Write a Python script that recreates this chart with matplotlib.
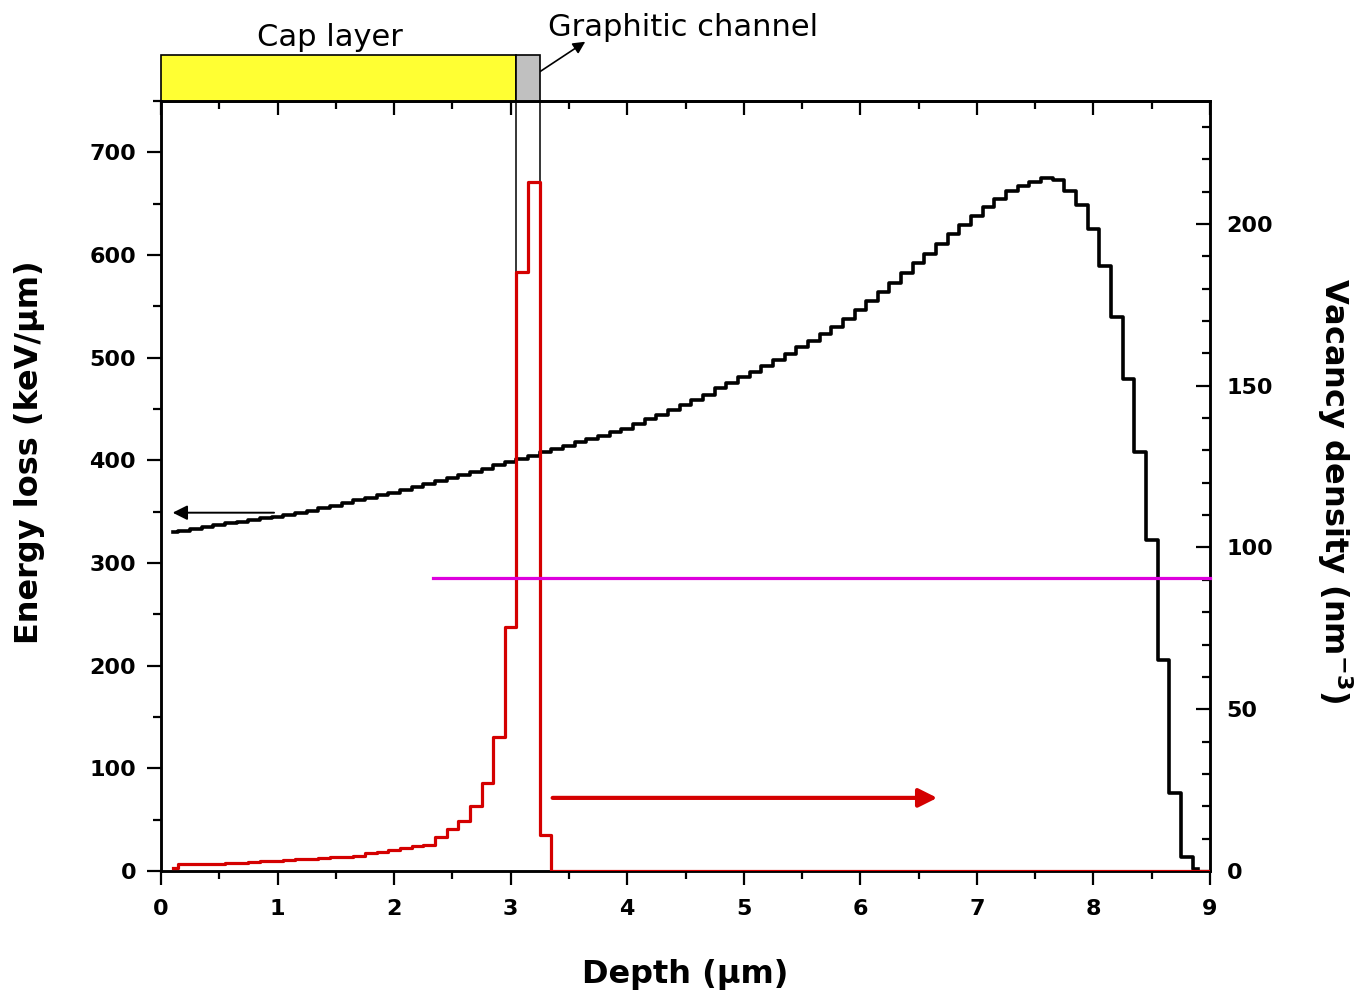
import numpy as np
import matplotlib
matplotlib.use("Agg")
import matplotlib.pyplot as plt
from matplotlib.patches import Rectangle
from matplotlib.ticker import MultipleLocator

# ---------------- data ----------------
# depth bins (µm), bin centres every 0.1 µm
depth_energy = np.round(np.arange(1, 90) * 0.1, 1)   # 0.1 .. 8.9
energy_loss = [
    330, 331.5, 333, 335, 337, 338.5, 340, 342, 343.5, 345,
    347, 349, 351, 354, 356, 358, 361, 363, 366, 368,
    371, 374, 377, 380, 383, 386, 389, 392, 395, 398,
    401, 404, 408, 411, 414, 418, 421, 424, 428, 431,
    435, 440, 444, 449, 454, 459, 464, 470, 475, 481,
    486, 492, 498, 504, 510, 516, 523, 530, 538, 546,
    555, 564, 573, 582, 592, 601, 611, 620, 629, 638,
    647, 655, 662, 667, 671, 675, 673, 662, 649, 625,
    589, 540, 479, 408, 322, 206, 76, 14, 2,
]

depth_vac = np.round(np.arange(1, 91) * 0.1, 1)      # 0.1 .. 9.0
vacancy = [
    0.8, 2.3, 2.2, 2.2, 2.3, 2.4, 2.6, 2.8, 3.0, 3.2,
    3.4, 3.7, 3.6, 4.0, 4.2, 4.4, 4.7, 5.6, 6.0, 6.4,
    7.0, 7.6, 8.0, 10.6, 12.9, 15.5, 20.2, 27.3, 41.3, 75.5,
    185, 213, 11,
] + [0] * 57

threshold_x = [2.33, 9.0]
threshold_y = [90.5, 90.5]

cap_layer = (0.0, 3.05)
channel = (3.05, 3.25)
channel_line_bottom = 185

x_ticks = list(range(0, 10))
left_ticks = [0, 100, 200, 300, 400, 500, 600, 700]
right_ticks = [0, 50, 100, 150, 200]

RED = "#d40000"
MAGENTA = "#dd00dd"

# ---------------- figure ----------------
fig = plt.figure(figsize=(13.69, 9.98), dpi=100)
ax = fig.add_axes([161 / 1369, 1 - 871 / 998, 1049 / 1369, 770 / 998])
ax2 = ax.twinx()

ax.plot(depth_energy, energy_loss, drawstyle="steps-mid", color="black",
        lw=2.6, zorder=3)
ax2.plot(depth_vac, vacancy, drawstyle="steps-mid", color=RED, lw=2.3,
         zorder=4)
ax2.plot(threshold_x, threshold_y, color=MAGENTA, lw=2.3, zorder=5,
         clip_on=False)

ax.set_xlim(0, 9)
ax.set_ylim(0, 750)
ax2.set_ylim(0, 238)

# channel edge lines going down into the plot
ax2.vlines(list(channel), channel_line_bottom, 238, color="black", lw=1.1,
           zorder=3)

# arrows
ax.annotate("", xy=(0.1, 349), xytext=(0.97, 349),
            arrowprops=dict(arrowstyle="-|>", color="black", lw=1.4,
                            mutation_scale=22, shrinkA=0, shrinkB=0))
ax2.annotate("", xy=(6.66, 22.6), xytext=(3.36, 22.6),
             arrowprops=dict(arrowstyle="-|>", color=RED, lw=3,
                             mutation_scale=28, shrinkA=0, shrinkB=0))

# ---------------- top layer boxes ----------------
tr = ax.get_xaxis_transform()
ax.add_patch(Rectangle((cap_layer[0], 1.0), cap_layer[1] - cap_layer[0],
                       0.0597, transform=tr, facecolor="#ffff33",
                       edgecolor="black", lw=1.2, clip_on=False, zorder=6))
ax.add_patch(Rectangle((channel[0], 1.0), channel[1] - channel[0], 0.0597,
                       transform=tr, facecolor="#c0c0c0", edgecolor="black",
                       lw=1.2, clip_on=False, zorder=6))
ax.text(1.45, 1.083, "Cap layer", transform=tr, ha="center", va="center",
        fontsize=22, family="DejaVu Sans")
ax.text(3.32, 1.095, "Graphitic channel", transform=tr, ha="left",
        va="center", fontsize=22, family="DejaVu Sans")
ax.annotate("", xy=(3.64, 1.077), xytext=(3.17, 1.030), xycoords=tr,
            textcoords=tr,
            arrowprops=dict(arrowstyle="-|>", color="black", lw=1.2,
                            mutation_scale=18, shrinkA=0, shrinkB=0))

# ---------------- ticks / spines ----------------
for a in (ax, ax2):
    for s in a.spines.values():
        s.set_linewidth(1.8)

ax.set_xticks(x_ticks)
ax.xaxis.set_minor_locator(MultipleLocator(0.5))
ax.set_yticks(left_ticks)
ax.yaxis.set_minor_locator(MultipleLocator(50))
ax.tick_params(axis="both", which="major", direction="out", length=10,
               width=1.6, labelsize=16)
ax.tick_params(axis="both", which="minor", direction="out", length=6,
               width=1.6)
ax.tick_params(axis="x", pad=10)
ax.tick_params(axis="y", pad=8, right=False)

ax2.set_yticks(right_ticks)
ax2.yaxis.set_minor_locator(MultipleLocator(10))
ax2.tick_params(axis="y", which="major", direction="in", length=10,
                width=1.6, labelsize=16, pad=12)
ax2.tick_params(axis="y", which="minor", direction="in", length=6,
                width=1.6)

sec = ax.secondary_xaxis("top")
sec.set_xticks(x_ticks)
sec.xaxis.set_minor_locator(MultipleLocator(0.5))
sec.tick_params(axis="x", which="major", direction="in", length=10,
                width=1.6, labeltop=False)
sec.tick_params(axis="x", which="minor", direction="in", length=6,
                width=1.6)
sec.spines["top"].set_linewidth(1.8)

for lbl in ax.get_xticklabels() + ax.get_yticklabels() + ax2.get_yticklabels():
    lbl.set_fontweight("bold")

# ---------------- axis labels ----------------
fig.text(30 / 1369, 1 - 452 / 998, "Energy loss (keV/µm)", rotation=90,
         ha="center", va="center", fontsize=23, fontweight="bold")
fig.text(685 / 1369, 1 - 975 / 998, "Depth (µm)", ha="center", va="center",
         fontsize=23, fontweight="bold")
fig.text(1335 / 1369, 1 - 491 / 998,
         r"Vacancy density (nm$^{\mathbf{-3}}$)", rotation=270,
         ha="center", va="center", fontsize=23, fontweight="bold")

fig.savefig("out.png", dpi=100)
